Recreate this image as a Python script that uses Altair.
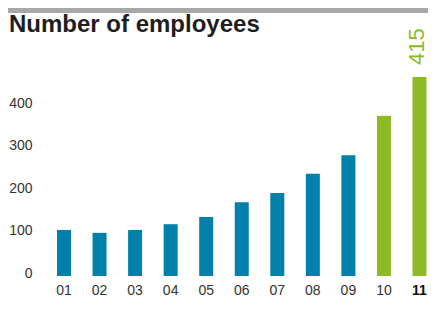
import altair as alt
import pandas as pd

# ---- data ----
years = ["01", "02", "03", "04", "05", "06", "07", "08", "09", "10", "11"]
employees = [96, 90, 96, 108, 123, 154, 173, 213, 252, 334, 415]
highlight_years = ["10", "11"]
axis_ticks = [0, 100, 200, 300, 400]
title_text = "Number of employees"

BLUE = "#0080ab"
GREEN = "#8cbb26"
REG = "Liberation Sans, Arial, sans-serif"

df = pd.DataFrame({"year": years, "employees": employees})
ticks_df = pd.DataFrame({"v": axis_ticks})
title_df = pd.DataFrame({"t": [title_text]})
band_df = pd.DataFrame({"a": [0]})

# svg must stay within the 420px body width (otherwise it gets shrunk)
W, H = 369.5, 199
PAD = {"left": 49, "top": 69, "right": 1.5, "bottom": 24}

x_enc = alt.X(
    "year:N",
    sort=years,
    scale=alt.Scale(paddingInner=0.6062, paddingOuter=0),
    axis=alt.Axis(
        title=None, ticks=False, domain=False, labelAngle=0, labelPadding=7.5,
        labelFontSize=14, labelFont=REG,
        labelColor={"condition": {"test": "datum.value == '11'", "value": "#111111"}, "value": "#333333"},
        labelFontWeight={"condition": {"test": "datum.value == '11'", "value": "bold"}, "value": "normal"},
    ),
)
y_enc = alt.Y("employees:Q", scale=alt.Scale(domain=[0, 415], nice=False, zero=True), axis=None)

hl_test = "indexof(" + str(highlight_years) + ", datum.year) >= 0"

bars = alt.Chart(df).mark_bar().encode(
    x=x_enc,
    y=y_enc,
    color=alt.condition(hl_test, alt.value(GREEN), alt.value(BLUE)),
)

label = alt.Chart(df).transform_filter(
    alt.datum.year == years[-1]
).mark_text(
    angle=270, align="left", baseline="middle", dx=12, dy=-3, fontSize=22, font=REG, color=GREEN
).encode(x=x_enc, y=y_enc, text="employees:Q")

inner = alt.layer(bars, label)

axis_layer = alt.Chart(ticks_df).mark_point(opacity=0).encode(
    y=alt.Y(
        "v:Q",
        scale=alt.Scale(domain=[-6.82, 461.4], nice=False, zero=False),
        axis=alt.Axis(
            orient="left", values=axis_ticks, title=None, ticks=False, domain=False,
            grid=False, labelPadding=25, labelFontSize=14, labelFont=REG,
            labelColor="#333333",
        ),
    )
)

title_layer = alt.Chart(title_df).mark_text(
    align="left", baseline="alphabetic", fontSize=24, fontWeight="bold",
    font=REG, color="#1e1e1e"
).encode(x=alt.value(-48), y=alt.value(-44.7), text="t:N")

gray_band = alt.Chart(band_df).mark_rect(color="#a8a8a8").encode(
    x=alt.value(-49), x2=alt.value(371), y=alt.value(-69), y2=alt.value(-64)
)

chart = alt.layer(inner, axis_layer, title_layer, gray_band).resolve_scale(
    y="independent"
).properties(
    width=W, height=H, padding=PAD, autosize=alt.AutoSizeParams(type="none")
).configure_view(stroke=None)

chart.save("out.html", embed_options={"renderer": "svg", "actions": False})
